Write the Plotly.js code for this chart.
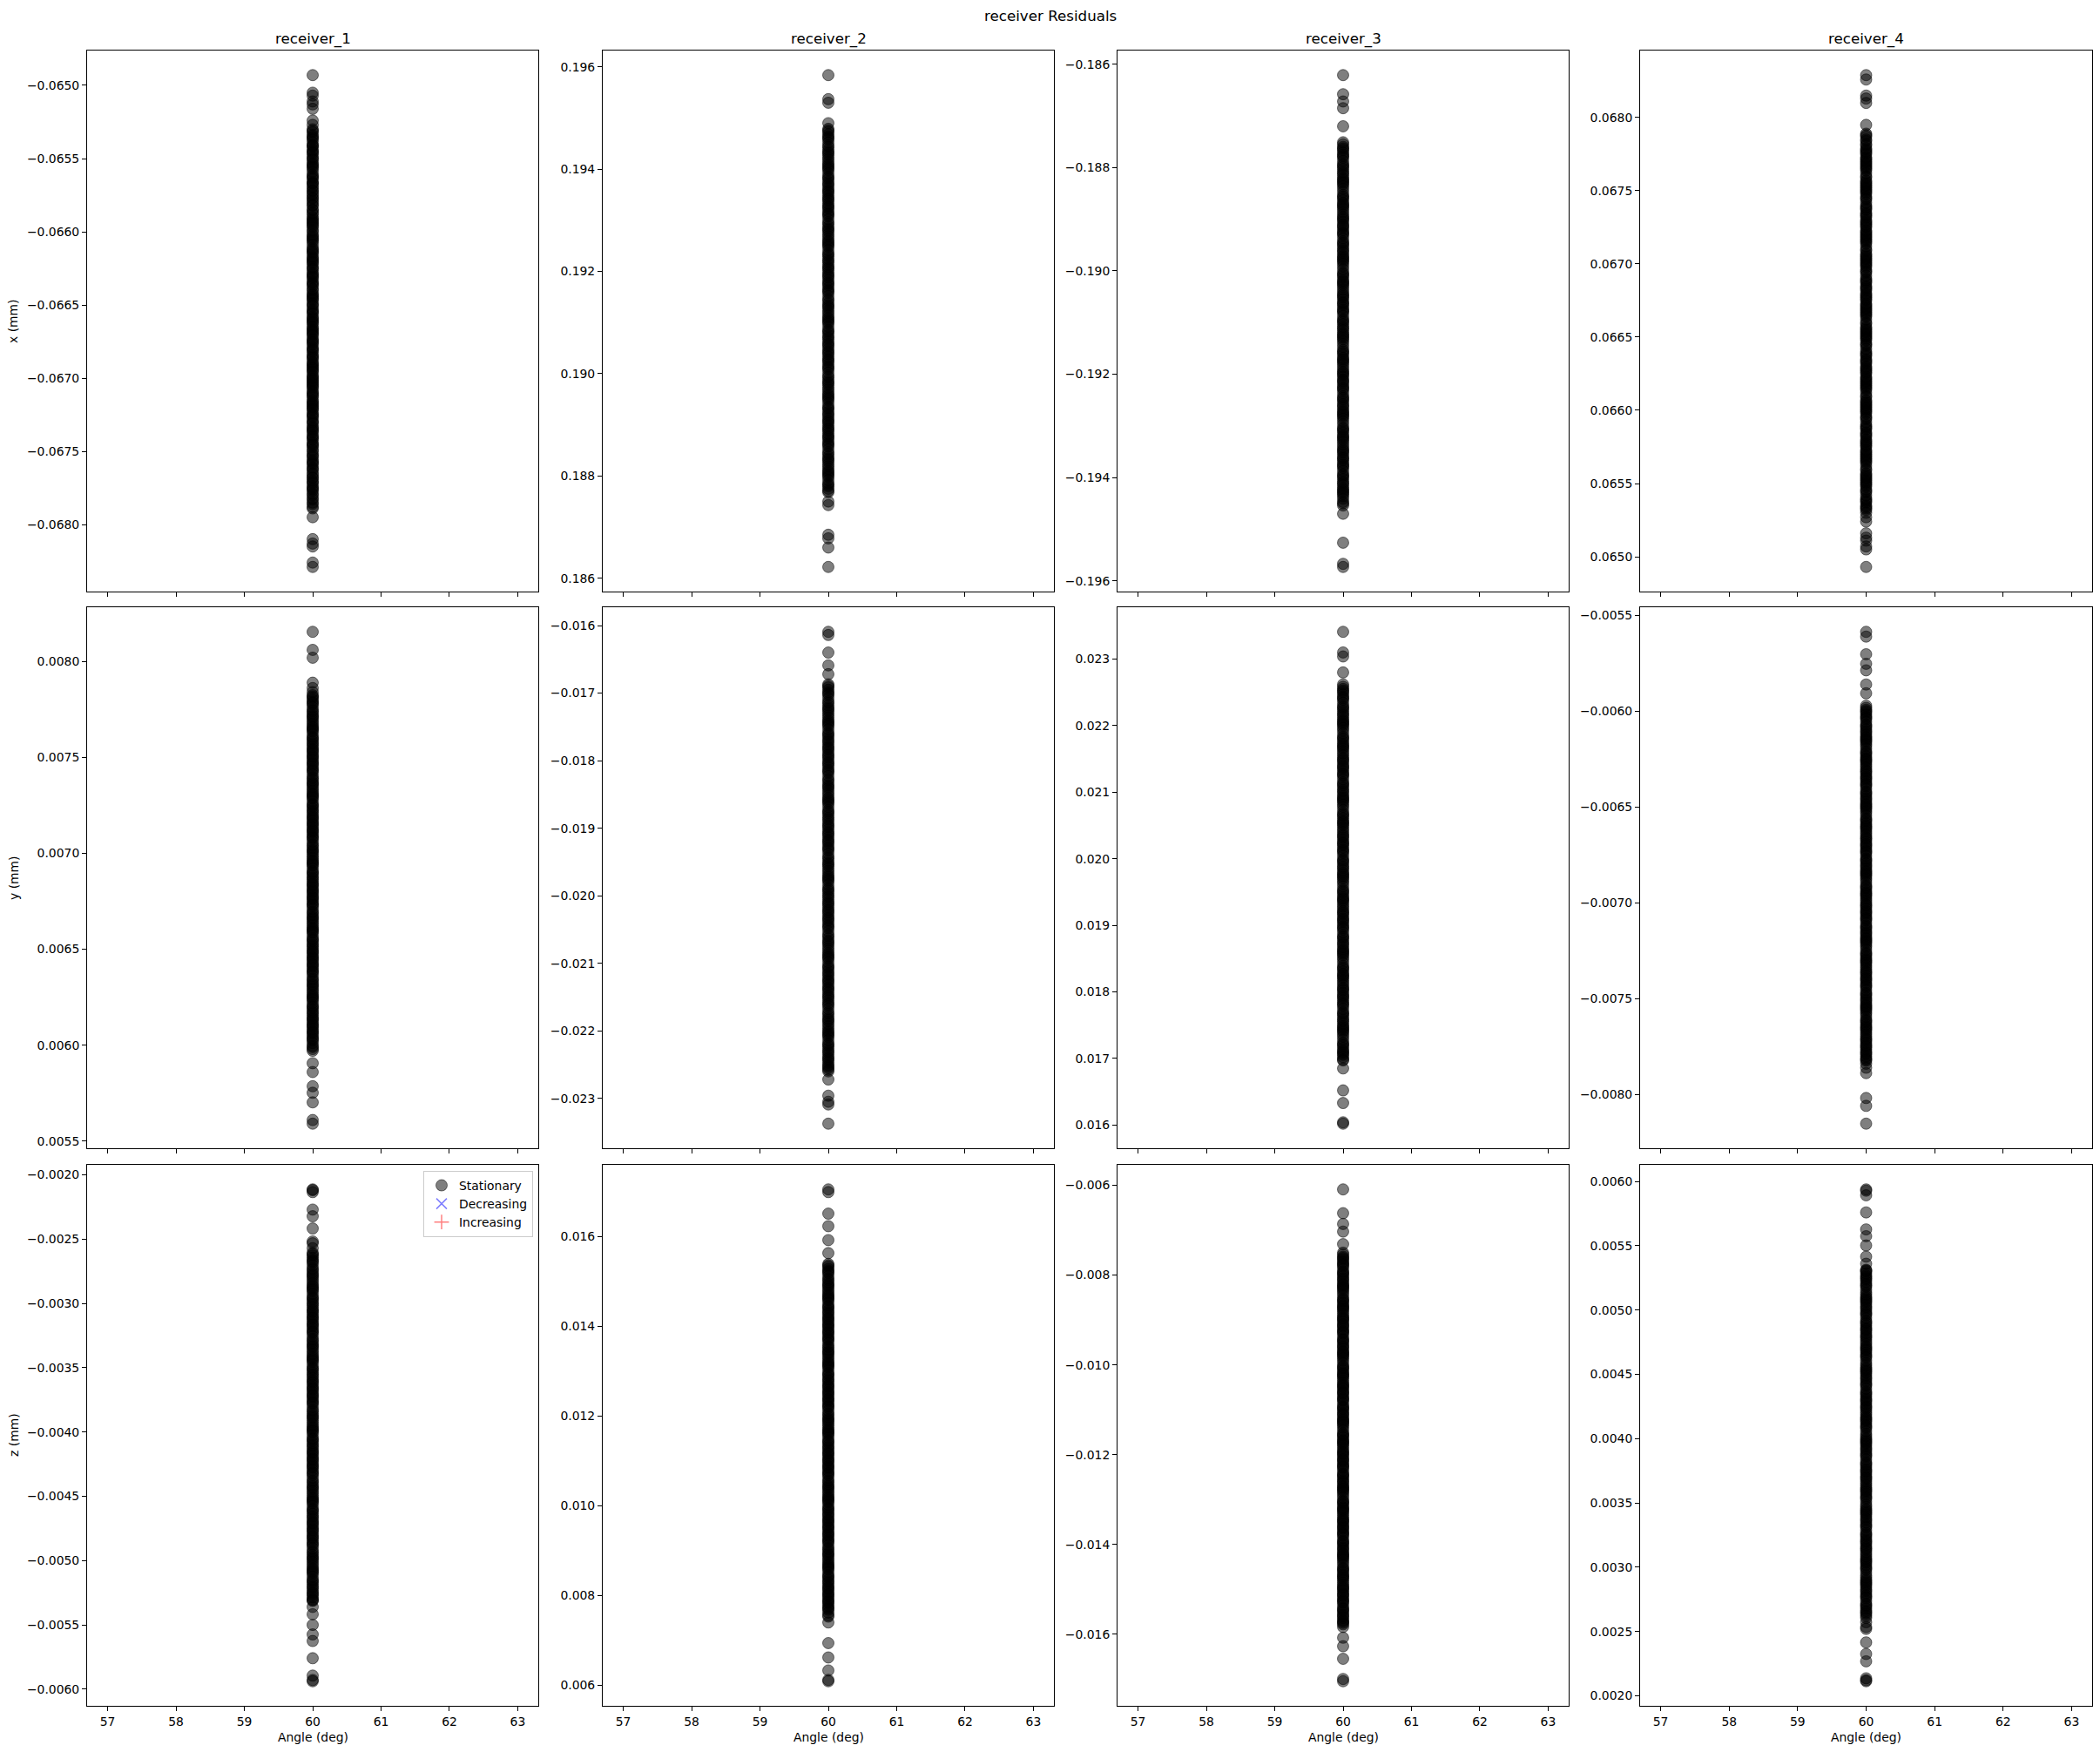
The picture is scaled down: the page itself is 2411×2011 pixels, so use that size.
<!DOCTYPE html>
<html><head><meta charset="utf-8">
<script src="https://cdn.plot.ly/plotly-3.0.1.min.js"></script>
<style>html,body{margin:0;padding:0;background:#fff}</style>
</head><body><div id="chart" style="width:2411px;height:2011px"></div>
<script>
// ---------------- data ----------------
const figTitle = 'receiver Residuals';
const receivers = ['receiver_1','receiver_2','receiver_3','receiver_4'];
const yTitles = ['x (mm)','y (mm)','z (mm)'];
const xTitle = 'Angle (deg)';
const xTickVals = [57,58,59,60,61,62,63];
const stationaryAngle = 60;           // every residual sample is at 60 deg (stationary)
const legendNames = ['Stationary','Decreasing','Increasing'];
// no decreasing / increasing samples in this data set (legend entries only)
const decreasingAngles = [null], decreasingValues = [null];
const increasingAngles = [null], increasingValues = [null];

const r1_x = [-0.06493,-0.06505,-0.06507,-0.06511,-0.06513,-0.06516,-0.06524,-0.06527,
-0.06530,-0.06532,-0.06535,-0.06537,-0.06541,-0.06542,-0.06545,-0.06547,-0.06550,-0.06553,-0.06555,-0.06557,-0.06561,-0.06563,-0.06566,-0.06567,-0.06570,-0.06572,-0.06575,-0.06577,
-0.06580,-0.06582,-0.06585,-0.06588,-0.06591,-0.06592,-0.06595,-0.06597,-0.06600,-0.06603,-0.06605,-0.06607,-0.06611,-0.06613,-0.06615,-0.06617,-0.06620,-0.06622,-0.06625,-0.06628,
-0.06630,-0.06632,-0.06635,-0.06637,-0.06640,-0.06642,-0.06645,-0.06647,-0.06650,-0.06653,-0.06655,-0.06658,-0.06661,-0.06663,-0.06666,-0.06667,-0.06670,-0.06673,-0.06675,-0.06677,
-0.06680,-0.06682,-0.06685,-0.06687,-0.06691,-0.06692,-0.06695,-0.06698,-0.06700,-0.06703,-0.06705,-0.06707,-0.06711,-0.06713,-0.06716,-0.06717,-0.06720,-0.06722,-0.06725,-0.06727,
-0.06730,-0.06733,-0.06735,-0.06737,-0.06741,-0.06742,-0.06745,-0.06747,-0.06750,-0.06753,-0.06756,-0.06757,-0.06761,-0.06763,-0.06766,-0.06768,-0.06770,-0.06772,-0.06775,-0.06777,
-0.06780,-0.06783,-0.06786,-0.06789,
-0.06795,-0.06810,-0.06813,-0.06815,-0.06826,-0.06829];
const r1_x_band = [-0.06531,-0.06534,-0.06536,-0.06539,-0.06541,-0.06544,-0.06546,-0.06549,-0.06551,-0.06554,-0.06556,-0.06559,-0.06562,-0.06564,-0.06567,-0.06569,-0.06572,-0.06574,-0.06577,-0.06579,
-0.06582,-0.06585,-0.06587,-0.06590,-0.06593,-0.06594,-0.06596,-0.06599,-0.06602,-0.06604,-0.06606,-0.06609,-0.06612,-0.06614,-0.06618,-0.06619,-0.06621,-0.06624,-0.06626,-0.06629,
-0.06631,-0.06634,-0.06636,-0.06639,-0.06643,-0.06644,-0.06646,-0.06649,-0.06651,-0.06654,-0.06656,-0.06659,-0.06660,-0.06662,-0.06665,-0.06668,-0.06669,-0.06671,-0.06674,-0.06676,
-0.06679,-0.06681,-0.06684,-0.06686,-0.06689,-0.06690,-0.06693,-0.06694,-0.06696,-0.06699,-0.06701,-0.06702,-0.06704,-0.06706,-0.06709,-0.06710,-0.06712,-0.06715,-0.06718,-0.06719,
-0.06721,-0.06724,-0.06726,-0.06729,-0.06731,-0.06734,-0.06736,-0.06739,-0.06740,-0.06744,-0.06746,-0.06749,-0.06752,-0.06754,-0.06758,-0.06759,-0.06762,-0.06765,-0.06768,-0.06771,
-0.06774,-0.06776,-0.06779,-0.06782,-0.06785,-0.06788];

const r2_x = [0.19584,0.19537,0.19530,0.19490,
0.19479,0.19473,0.19464,0.19458,0.19446,0.19443,0.19434,0.19428,0.19419,0.19410,0.19404,0.19398,0.19386,0.19380,0.19371,0.19368,0.19359,0.19353,0.19344,0.19338,
0.19329,0.19323,0.19314,0.19308,0.19296,0.19293,0.19284,0.19278,0.19269,0.19260,0.19254,0.19248,0.19236,0.19230,0.19221,0.19218,0.19209,0.19203,0.19194,0.19188,
0.19179,0.19173,0.19164,0.19158,0.19146,0.19143,0.19134,0.19128,0.19119,0.19110,0.19104,0.19098,0.19086,0.19080,0.19071,0.19068,0.19059,0.19053,0.19044,0.19038,
0.19029,0.19023,0.19014,0.19008,0.18996,0.18993,0.18984,0.18978,0.18969,0.18960,0.18954,0.18948,0.18936,0.18930,0.18921,0.18918,0.18909,0.18903,0.18894,0.18888,
0.18879,0.18873,0.18864,0.18858,0.18846,0.18843,0.18834,0.18828,0.18819,0.18810,0.18804,0.18798,0.18786,0.18780,0.18771,0.18768,
0.18750,0.18743,0.18685,0.18678,0.18660,0.18622];
const r2_x_band = [0.19476,0.19468,0.19461,0.19452,0.19438,0.19431,0.19423,0.19414,0.19407,0.19401,0.19392,0.19383,0.19375,0.19363,0.19356,0.19348,0.19341,0.19333,
0.19326,0.19318,0.19311,0.19302,0.19288,0.19281,0.19273,0.19264,0.19257,0.19251,0.19242,0.19233,0.19225,0.19213,0.19206,0.19198,0.19191,0.19183,
0.19176,0.19168,0.19161,0.19152,0.19138,0.19131,0.19123,0.19114,0.19107,0.19101,0.19092,0.19083,0.19075,0.19063,0.19056,0.19048,0.19041,0.19033,
0.19026,0.19018,0.19011,0.19002,0.18988,0.18981,0.18973,0.18964,0.18957,0.18951,0.18942,0.18933,0.18925,0.18913,0.18906,0.18898,0.18891,0.18883,
0.18876,0.18868,0.18861,0.18852,0.18838,0.18831,0.18823,0.18814,0.18807,0.18801,0.18792,0.18783,0.18775];

const r3_x = [-0.18621,-0.18658,-0.18672,-0.18685,-0.18720,
-0.18751,-0.18760,-0.18766,-0.18775,-0.18781,-0.18793,-0.18799,-0.18808,-0.18811,-0.18820,-0.18826,-0.18832,-0.18841,-0.18853,-0.18859,-0.18868,-0.18874,-0.18877,-0.18886,-0.18895,
-0.18901,-0.18910,-0.18916,-0.18925,-0.18931,-0.18943,-0.18949,-0.18958,-0.18961,-0.18970,-0.18976,-0.18982,-0.18991,-0.19003,-0.19009,-0.19018,-0.19024,-0.19027,-0.19036,-0.19045,
-0.19051,-0.19060,-0.19066,-0.19075,-0.19081,-0.19093,-0.19099,-0.19108,-0.19111,-0.19120,-0.19126,-0.19132,-0.19141,-0.19153,-0.19159,-0.19168,-0.19174,-0.19177,-0.19186,-0.19195,
-0.19201,-0.19210,-0.19216,-0.19225,-0.19231,-0.19243,-0.19249,-0.19258,-0.19261,-0.19270,-0.19276,-0.19282,-0.19291,-0.19303,-0.19309,-0.19318,-0.19324,-0.19327,-0.19336,-0.19345,
-0.19351,-0.19360,-0.19366,-0.19375,-0.19381,-0.19393,-0.19399,-0.19408,-0.19411,-0.19420,-0.19426,-0.19432,-0.19441,-0.19450,-0.19454,
-0.19470,-0.19526,-0.19567,-0.19573];
const r3_x_band = [-0.18755,-0.18763,-0.18771,-0.18778,-0.18787,-0.18796,-0.18803,-0.18815,-0.18823,-0.18829,-0.18836,-0.18847,-0.18856,-0.18863,-0.18871,-0.18881,-0.18891,-0.18898,
-0.18905,-0.18913,-0.18921,-0.18928,-0.18937,-0.18946,-0.18953,-0.18965,-0.18973,-0.18979,-0.18986,-0.18997,-0.19006,-0.19013,-0.19021,-0.19031,-0.19041,-0.19048,
-0.19055,-0.19063,-0.19071,-0.19078,-0.19087,-0.19096,-0.19103,-0.19115,-0.19123,-0.19129,-0.19136,-0.19147,-0.19156,-0.19163,-0.19171,-0.19181,-0.19191,-0.19198,
-0.19205,-0.19213,-0.19221,-0.19228,-0.19237,-0.19246,-0.19253,-0.19265,-0.19273,-0.19279,-0.19286,-0.19297,-0.19306,-0.19313,-0.19321,-0.19331,-0.19341,-0.19348,
-0.19355,-0.19363,-0.19371,-0.19378,-0.19387,-0.19396,-0.19403,-0.19415,-0.19423,-0.19429,-0.19436,-0.19447];

const r4_x = [0.06829,0.06826,0.06815,0.06813,0.06810,0.06795,
0.06789,0.06787,0.06784,0.06781,
0.06778,0.06775,0.06772,0.06771,0.06769,0.06766,0.06764,0.06760,0.06757,0.06755,0.06753,0.06750,0.06749,0.06746,0.06744,0.06740,0.06738,0.06735,0.06733,0.06730,
0.06728,0.06725,0.06722,0.06721,0.06719,0.06716,0.06714,0.06710,0.06707,0.06705,0.06703,0.06700,0.06699,0.06696,0.06694,0.06690,0.06688,0.06685,0.06683,0.06680,
0.06678,0.06675,0.06672,0.06671,0.06669,0.06666,0.06664,0.06660,0.06657,0.06655,0.06653,0.06650,0.06649,0.06646,0.06644,0.06640,0.06638,0.06635,0.06633,0.06630,
0.06628,0.06625,0.06622,0.06621,0.06619,0.06616,0.06614,0.06610,0.06607,0.06605,0.06603,0.06600,0.06599,0.06596,0.06594,0.06590,0.06588,0.06585,0.06583,0.06580,
0.06578,0.06575,0.06572,0.06571,0.06569,0.06566,0.06564,0.06560,0.06557,0.06555,0.06553,0.06550,0.06549,0.06546,0.06544,0.06540,0.06538,0.06535,0.06533,0.06530,
0.06527,0.06524,0.06516,0.06513,0.06511,0.06507,0.06505,0.06493];
const r4_x_band = [0.06532,0.06534,0.06537,0.06539,0.06542,0.06545,0.06548,0.06551,0.06552,0.06554,0.06556,0.06559,0.06562,0.06565,0.06567,0.06568,0.06570,0.06573,0.06576,0.06577,
0.06579,0.06582,0.06584,0.06587,0.06589,0.06592,0.06595,0.06598,0.06601,0.06602,0.06604,0.06606,0.06609,0.06612,0.06615,0.06617,0.06618,0.06620,0.06623,0.06626,
0.06627,0.06629,0.06632,0.06634,0.06637,0.06639,0.06642,0.06645,0.06648,0.06651,0.06652,0.06654,0.06656,0.06659,0.06662,0.06665,0.06667,0.06668,0.06670,0.06673,
0.06676,0.06677,0.06679,0.06682,0.06684,0.06687,0.06689,0.06692,0.06695,0.06698,0.06701,0.06702,0.06704,0.06706,0.06709,0.06712,0.06715,0.06717,0.06718,0.06720,
0.06723,0.06726,0.06727,0.06729,0.06732,0.06734,0.06737,0.06739,0.06742,0.06745,0.06748,0.06751,0.06752,0.06754,0.06756,0.06759,0.06762,0.06765,0.06767,0.06768,
0.06770,0.06773,0.06776,0.06777,0.06779,0.06782,0.06785,0.06788];

const r1_y = [0.008154,0.008060,0.008019,0.007889,0.007861,0.007840,
0.007824,0.007810,0.007789,0.007775,0.007747,0.007740,0.007719,0.007705,0.007684,0.007663,0.007649,0.007635,0.007607,0.007593,0.007572,0.007565,0.007544,0.007530,0.007509,0.007495,
0.007474,0.007460,0.007439,0.007425,0.007397,0.007390,0.007369,0.007355,0.007334,0.007313,0.007299,0.007285,0.007257,0.007243,0.007222,0.007215,0.007194,0.007180,0.007159,0.007145,
0.007124,0.007110,0.007089,0.007075,0.007047,0.007040,0.007019,0.007005,0.006984,0.006963,0.006949,0.006935,0.006907,0.006893,0.006872,0.006865,0.006844,0.006830,0.006809,0.006795,
0.006774,0.006760,0.006739,0.006725,0.006697,0.006690,0.006669,0.006655,0.006634,0.006613,0.006599,0.006585,0.006557,0.006543,0.006522,0.006515,0.006494,0.006480,0.006459,0.006445,
0.006424,0.006410,0.006389,0.006375,0.006347,0.006340,0.006319,0.006305,0.006284,0.006263,0.006249,0.006235,0.006207,0.006193,0.006172,0.006165,0.006144,0.006130,0.006109,0.006095,
0.006074,0.006060,0.006039,0.006025,0.005997,0.005990,0.005971,
0.005906,0.005860,0.005786,0.005752,0.005702,0.005610,0.005591];
const r1_y_band = [0.007817,0.007799,0.007782,0.007761,0.007730,0.007712,0.007694,0.007674,0.007656,0.007642,0.007621,0.007600,0.007582,0.007554,0.007537,0.007519,0.007502,0.007484,
0.007467,0.007449,0.007432,0.007411,0.007380,0.007362,0.007344,0.007324,0.007306,0.007292,0.007271,0.007250,0.007232,0.007204,0.007187,0.007169,0.007152,0.007134,
0.007117,0.007099,0.007082,0.007061,0.007030,0.007012,0.006994,0.006974,0.006956,0.006942,0.006921,0.006900,0.006882,0.006854,0.006837,0.006819,0.006802,0.006784,
0.006767,0.006749,0.006732,0.006711,0.006680,0.006662,0.006644,0.006624,0.006606,0.006592,0.006571,0.006550,0.006532,0.006504,0.006487,0.006469,0.006452,0.006434,
0.006417,0.006399,0.006382,0.006361,0.006330,0.006312,0.006294,0.006274,0.006256,0.006242,0.006221,0.006200,0.006182,0.006154,0.006137,0.006119,0.006102,0.006084,
0.006067,0.006049,0.006032,0.006011,0.005980];

const r2_y = [-0.016093,-0.016140,-0.016400,-0.016590,-0.016720,
-0.016870,-0.016916,-0.016985,-0.017031,-0.017123,-0.017146,-0.017215,-0.017261,-0.017330,-0.017399,-0.017445,-0.017491,-0.017583,-0.017629,-0.017698,-0.017721,-0.017790,-0.017836,-0.017905,-0.017951,
-0.018020,-0.018066,-0.018135,-0.018181,-0.018273,-0.018296,-0.018365,-0.018411,-0.018480,-0.018549,-0.018595,-0.018641,-0.018733,-0.018779,-0.018848,-0.018871,-0.018940,-0.018986,-0.019055,-0.019101,
-0.019170,-0.019216,-0.019285,-0.019331,-0.019423,-0.019446,-0.019515,-0.019561,-0.019630,-0.019699,-0.019745,-0.019791,-0.019883,-0.019929,-0.019998,-0.020021,-0.020090,-0.020136,-0.020205,-0.020251,
-0.020320,-0.020366,-0.020435,-0.020481,-0.020573,-0.020596,-0.020665,-0.020711,-0.020780,-0.020849,-0.020895,-0.020941,-0.021033,-0.021079,-0.021148,-0.021171,-0.021240,-0.021286,-0.021355,-0.021401,
-0.021470,-0.021516,-0.021585,-0.021631,-0.021723,-0.021746,-0.021815,-0.021861,-0.021930,-0.021999,-0.022045,-0.022091,-0.022183,-0.022229,-0.022298,-0.022321,-0.022390,-0.022436,-0.022505,-0.022551,-0.022600,
-0.022720,-0.022960,-0.023050,-0.023090,-0.023374];
const r2_y_band = [-0.016893,-0.016951,-0.017008,-0.017077,-0.017181,-0.017238,-0.017296,-0.017365,-0.017422,-0.017468,-0.017537,-0.017606,-0.017664,-0.017756,-0.017813,-0.017871,-0.017928,-0.017986,
-0.018043,-0.018101,-0.018158,-0.018227,-0.018331,-0.018388,-0.018446,-0.018515,-0.018572,-0.018618,-0.018687,-0.018756,-0.018814,-0.018906,-0.018963,-0.019021,-0.019078,-0.019136,
-0.019193,-0.019251,-0.019308,-0.019377,-0.019481,-0.019538,-0.019596,-0.019665,-0.019722,-0.019768,-0.019837,-0.019906,-0.019964,-0.020056,-0.020113,-0.020171,-0.020228,-0.020286,
-0.020343,-0.020401,-0.020458,-0.020527,-0.020631,-0.020688,-0.020746,-0.020815,-0.020872,-0.020918,-0.020987,-0.021056,-0.021114,-0.021206,-0.021263,-0.021321,-0.021378,-0.021436,
-0.021493,-0.021551,-0.021608,-0.021677,-0.021781,-0.021838,-0.021896,-0.021965,-0.022022,-0.022068,-0.022137,-0.022206,-0.022264,-0.022356,-0.022413,-0.022471,-0.022528,-0.022577];

const r3_y = [0.023410,0.023100,0.023040,0.022800,
0.022620,0.022551,0.022505,0.022436,0.022390,0.022298,0.022252,0.022183,0.022160,0.022091,0.022045,0.021999,0.021930,0.021838,0.021792,0.021723,0.021677,0.021654,0.021585,0.021516,
0.021470,0.021401,0.021355,0.021286,0.021240,0.021148,0.021102,0.021033,0.021010,0.020941,0.020895,0.020849,0.020780,0.020688,0.020642,0.020573,0.020527,0.020504,0.020435,0.020366,
0.020320,0.020251,0.020205,0.020136,0.020090,0.019998,0.019952,0.019883,0.019860,0.019791,0.019745,0.019699,0.019630,0.019538,0.019492,0.019423,0.019377,0.019354,0.019285,0.019216,
0.019170,0.019101,0.019055,0.018986,0.018940,0.018848,0.018802,0.018733,0.018710,0.018641,0.018595,0.018549,0.018480,0.018388,0.018342,0.018273,0.018227,0.018204,0.018135,0.018066,
0.018020,0.017951,0.017905,0.017836,0.017790,0.017698,0.017652,0.017583,0.017560,0.017491,0.017445,0.017399,0.017330,0.017238,0.017192,0.017123,0.017077,0.017054,0.016985,0.016970,
0.016850,0.016520,0.016330,0.016040,0.016020];
const r3_y_band = [0.022585,0.022528,0.022470,0.022413,0.022344,0.022275,0.022217,0.022125,0.022068,0.022022,0.021964,0.021884,0.021815,0.021757,0.021700,0.021619,0.021550,0.021493,
0.021435,0.021378,0.021320,0.021263,0.021194,0.021125,0.021067,0.020975,0.020918,0.020872,0.020814,0.020734,0.020665,0.020607,0.020550,0.020469,0.020400,0.020343,
0.020285,0.020228,0.020170,0.020113,0.020044,0.019975,0.019917,0.019825,0.019768,0.019722,0.019664,0.019584,0.019515,0.019457,0.019400,0.019319,0.019250,0.019193,
0.019135,0.019078,0.019020,0.018963,0.018894,0.018825,0.018767,0.018675,0.018618,0.018572,0.018514,0.018434,0.018365,0.018307,0.018250,0.018169,0.018100,0.018043,
0.017985,0.017928,0.017870,0.017813,0.017744,0.017675,0.017617,0.017525,0.017468,0.017422,0.017364,0.017284,0.017215,0.017157,0.017100,0.017019];

const r4_y = [-0.005585,-0.005610,-0.005702,-0.005752,-0.005786,-0.005860,-0.005906,
-0.005971,-0.005992,-0.006006,-0.006027,-0.006041,-0.006069,-0.006083,-0.006104,-0.006111,-0.006132,-0.006146,-0.006160,-0.006181,-0.006209,-0.006223,-0.006244,-0.006258,-0.006265,-0.006286,-0.006307,
-0.006321,-0.006342,-0.006356,-0.006377,-0.006391,-0.006419,-0.006433,-0.006454,-0.006461,-0.006482,-0.006496,-0.006510,-0.006531,-0.006559,-0.006573,-0.006594,-0.006608,-0.006615,-0.006636,-0.006657,
-0.006671,-0.006692,-0.006706,-0.006727,-0.006741,-0.006769,-0.006783,-0.006804,-0.006811,-0.006832,-0.006846,-0.006860,-0.006881,-0.006909,-0.006923,-0.006944,-0.006958,-0.006965,-0.006986,-0.007007,
-0.007021,-0.007042,-0.007056,-0.007077,-0.007091,-0.007119,-0.007133,-0.007154,-0.007161,-0.007182,-0.007196,-0.007210,-0.007231,-0.007259,-0.007273,-0.007294,-0.007308,-0.007315,-0.007336,-0.007357,
-0.007371,-0.007392,-0.007406,-0.007427,-0.007441,-0.007469,-0.007483,-0.007504,-0.007511,-0.007532,-0.007546,-0.007560,-0.007581,-0.007609,-0.007623,-0.007644,-0.007658,-0.007665,-0.007686,-0.007707,
-0.007721,-0.007742,-0.007756,-0.007777,-0.007791,-0.007812,-0.007824,
-0.007840,-0.007861,-0.007889,-0.008019,-0.008060,-0.008153];
const r4_y_band = [-0.005982,-0.005999,-0.006017,-0.006034,-0.006055,-0.006076,-0.006094,-0.006122,-0.006139,-0.006153,-0.006171,-0.006195,-0.006216,-0.006234,-0.006251,-0.006276,-0.006297,-0.006314,
-0.006332,-0.006349,-0.006367,-0.006384,-0.006405,-0.006426,-0.006444,-0.006472,-0.006489,-0.006503,-0.006521,-0.006545,-0.006566,-0.006584,-0.006601,-0.006626,-0.006647,-0.006664,
-0.006682,-0.006699,-0.006717,-0.006734,-0.006755,-0.006776,-0.006794,-0.006822,-0.006839,-0.006853,-0.006871,-0.006895,-0.006916,-0.006934,-0.006951,-0.006976,-0.006997,-0.007014,
-0.007032,-0.007049,-0.007067,-0.007084,-0.007105,-0.007126,-0.007144,-0.007172,-0.007189,-0.007203,-0.007221,-0.007245,-0.007266,-0.007284,-0.007301,-0.007326,-0.007347,-0.007364,
-0.007382,-0.007399,-0.007417,-0.007434,-0.007455,-0.007476,-0.007494,-0.007522,-0.007539,-0.007553,-0.007571,-0.007595,-0.007616,-0.007634,-0.007651,-0.007676,-0.007697,-0.007714,
-0.007732,-0.007749,-0.007766,-0.007784,-0.007802,-0.007818];

const r1_z = [-0.002113,-0.002119,-0.002134,-0.002270,-0.002322,-0.002417,-0.002518,-0.002532,-0.002570,
-0.002606,-0.002628,-0.002661,-0.002683,-0.002727,-0.002738,-0.002771,-0.002793,-0.002826,-0.002859,-0.002881,-0.002903,-0.002947,-0.002969,-0.003002,-0.003013,-0.003046,-0.003068,-0.003101,-0.003123,
-0.003156,-0.003178,-0.003211,-0.003233,-0.003277,-0.003288,-0.003321,-0.003343,-0.003376,-0.003409,-0.003431,-0.003453,-0.003497,-0.003519,-0.003552,-0.003563,-0.003596,-0.003618,-0.003651,-0.003673,
-0.003706,-0.003728,-0.003761,-0.003783,-0.003827,-0.003838,-0.003871,-0.003893,-0.003926,-0.003959,-0.003981,-0.004003,-0.004047,-0.004069,-0.004102,-0.004113,-0.004146,-0.004168,-0.004201,-0.004223,
-0.004256,-0.004278,-0.004311,-0.004333,-0.004377,-0.004388,-0.004421,-0.004443,-0.004476,-0.004509,-0.004531,-0.004553,-0.004597,-0.004619,-0.004652,-0.004663,-0.004696,-0.004718,-0.004751,-0.004773,
-0.004806,-0.004828,-0.004861,-0.004883,-0.004927,-0.004938,-0.004971,-0.004993,-0.005026,-0.005059,-0.005081,-0.005103,-0.005147,-0.005169,-0.005202,-0.005213,-0.005246,-0.005268,-0.005301,-0.005313,
-0.005360,-0.005417,-0.005500,-0.005574,-0.005625,-0.005759,-0.005894,-0.005928,-0.005938];
const r1_z_band = [-0.002617,-0.002645,-0.002672,-0.002705,-0.002755,-0.002782,-0.002810,-0.002843,-0.002870,-0.002892,-0.002925,-0.002958,-0.002986,-0.003030,-0.003057,-0.003085,-0.003112,-0.003140,
-0.003167,-0.003195,-0.003222,-0.003255,-0.003305,-0.003332,-0.003360,-0.003393,-0.003420,-0.003442,-0.003475,-0.003508,-0.003536,-0.003580,-0.003607,-0.003635,-0.003662,-0.003690,
-0.003717,-0.003745,-0.003772,-0.003805,-0.003855,-0.003882,-0.003910,-0.003943,-0.003970,-0.003992,-0.004025,-0.004058,-0.004086,-0.004130,-0.004157,-0.004185,-0.004212,-0.004240,
-0.004267,-0.004295,-0.004322,-0.004355,-0.004405,-0.004432,-0.004460,-0.004493,-0.004520,-0.004542,-0.004575,-0.004608,-0.004636,-0.004680,-0.004707,-0.004735,-0.004762,-0.004790,
-0.004817,-0.004845,-0.004872,-0.004905,-0.004955,-0.004982,-0.005010,-0.005043,-0.005070,-0.005092,-0.005125,-0.005158,-0.005186,-0.005230,-0.005257,-0.005285,-0.005307];

const r2_z = [0.01705,0.01699,0.01651,0.01623,0.01592,0.01563,
0.01539,0.01533,0.01524,0.01518,0.01506,0.01503,0.01494,0.01488,0.01479,0.01470,0.01464,0.01458,0.01446,0.01440,0.01431,0.01428,0.01419,0.01413,0.01404,0.01398,
0.01389,0.01383,0.01374,0.01368,0.01356,0.01353,0.01344,0.01338,0.01329,0.01320,0.01314,0.01308,0.01296,0.01290,0.01281,0.01278,0.01269,0.01263,0.01254,0.01248,
0.01239,0.01233,0.01224,0.01218,0.01206,0.01203,0.01194,0.01188,0.01179,0.01170,0.01164,0.01158,0.01146,0.01140,0.01131,0.01128,0.01119,0.01113,0.01104,0.01098,
0.01089,0.01083,0.01074,0.01068,0.01056,0.01053,0.01044,0.01038,0.01029,0.01020,0.01014,0.01008,0.00996,0.00990,0.00981,0.00978,0.00969,0.00963,0.00954,0.00948,
0.00939,0.00933,0.00924,0.00918,0.00906,0.00903,0.00894,0.00888,0.00879,0.00870,0.00864,0.00858,0.00846,0.00840,0.00831,0.00828,0.00819,0.00813,0.00804,0.00798,
0.00789,0.00783,0.00774,0.00768,0.00756,0.00753,
0.00740,0.00694,0.00662,0.00633,0.00612,0.00609];
const r2_z_band = [0.01536,0.01528,0.01521,0.01512,0.01498,0.01491,0.01483,0.01474,0.01467,0.01461,0.01452,0.01443,0.01435,0.01423,0.01416,0.01408,0.01401,0.01393,
0.01386,0.01378,0.01371,0.01362,0.01348,0.01341,0.01333,0.01324,0.01317,0.01311,0.01302,0.01293,0.01285,0.01273,0.01266,0.01258,0.01251,0.01243,
0.01236,0.01228,0.01221,0.01212,0.01198,0.01191,0.01183,0.01174,0.01167,0.01161,0.01152,0.01143,0.01135,0.01123,0.01116,0.01108,0.01101,0.01093,
0.01086,0.01078,0.01071,0.01062,0.01048,0.01041,0.01033,0.01024,0.01017,0.01011,0.01002,0.00993,0.00985,0.00973,0.00966,0.00958,0.00951,0.00943,
0.00936,0.00928,0.00921,0.00912,0.00898,0.00891,0.00883,0.00874,0.00867,0.00861,0.00852,0.00843,0.00835,0.00823,0.00816,0.00808,0.00801,0.00793,
0.00786,0.00778,0.00771,0.00762];

const r3_z = [-0.00609,-0.00662,-0.00686,-0.00703,-0.00731,
-0.00750,-0.00759,-0.00765,-0.00774,-0.00780,-0.00792,-0.00798,-0.00807,-0.00810,-0.00819,-0.00825,-0.00831,-0.00840,-0.00852,-0.00858,-0.00867,-0.00873,-0.00876,-0.00885,-0.00894,
-0.00900,-0.00909,-0.00915,-0.00924,-0.00930,-0.00942,-0.00948,-0.00957,-0.00960,-0.00969,-0.00975,-0.00981,-0.00990,-0.01002,-0.01008,-0.01017,-0.01023,-0.01026,-0.01035,-0.01044,
-0.01050,-0.01059,-0.01065,-0.01074,-0.01080,-0.01092,-0.01098,-0.01107,-0.01110,-0.01119,-0.01125,-0.01131,-0.01140,-0.01152,-0.01158,-0.01167,-0.01173,-0.01176,-0.01185,-0.01194,
-0.01200,-0.01209,-0.01215,-0.01224,-0.01230,-0.01242,-0.01248,-0.01257,-0.01260,-0.01269,-0.01275,-0.01281,-0.01290,-0.01302,-0.01308,-0.01317,-0.01323,-0.01326,-0.01335,-0.01344,
-0.01350,-0.01359,-0.01365,-0.01374,-0.01380,-0.01392,-0.01398,-0.01407,-0.01410,-0.01419,-0.01425,-0.01431,-0.01440,-0.01452,-0.01458,-0.01467,-0.01473,-0.01476,-0.01485,-0.01494,
-0.01500,-0.01509,-0.01515,-0.01524,-0.01530,-0.01542,-0.01548,-0.01557,-0.01560,-0.01569,-0.01575,-0.01584,
-0.01608,-0.01627,-0.01655,-0.01700,-0.01705];
const r3_z_band = [-0.00754,-0.00762,-0.00770,-0.00777,-0.00786,-0.00795,-0.00802,-0.00814,-0.00822,-0.00828,-0.00835,-0.00846,-0.00855,-0.00862,-0.00870,-0.00880,-0.00890,-0.00897,
-0.00904,-0.00912,-0.00920,-0.00927,-0.00936,-0.00945,-0.00952,-0.00964,-0.00972,-0.00978,-0.00985,-0.00996,-0.01005,-0.01012,-0.01020,-0.01030,-0.01040,-0.01047,
-0.01054,-0.01062,-0.01070,-0.01077,-0.01086,-0.01095,-0.01102,-0.01114,-0.01122,-0.01128,-0.01135,-0.01146,-0.01155,-0.01162,-0.01170,-0.01180,-0.01190,-0.01197,
-0.01204,-0.01212,-0.01220,-0.01227,-0.01236,-0.01245,-0.01252,-0.01264,-0.01272,-0.01278,-0.01285,-0.01296,-0.01305,-0.01312,-0.01320,-0.01330,-0.01340,-0.01347,
-0.01354,-0.01362,-0.01370,-0.01377,-0.01386,-0.01395,-0.01402,-0.01414,-0.01422,-0.01428,-0.01435,-0.01446,-0.01455,-0.01462,-0.01470,-0.01480,-0.01490,-0.01497,
-0.01504,-0.01512,-0.01520,-0.01527,-0.01536,-0.01545,-0.01552,-0.01564,-0.01572,-0.01578];

const r4_z = [0.005938,0.005928,0.005892,0.005759,0.005627,0.005574,0.005502,0.005415,0.005360,
0.005313,0.005301,0.005268,0.005257,0.005235,0.005202,0.005180,0.005136,0.005103,0.005081,0.005059,0.005026,0.005015,0.004982,0.004960,0.004916,0.004894,0.004861,0.004839,0.004806,
0.004784,0.004751,0.004718,0.004707,0.004685,0.004652,0.004630,0.004586,0.004553,0.004531,0.004509,0.004476,0.004465,0.004432,0.004410,0.004366,0.004344,0.004311,0.004289,0.004256,
0.004234,0.004201,0.004168,0.004157,0.004135,0.004102,0.004080,0.004036,0.004003,0.003981,0.003959,0.003926,0.003915,0.003882,0.003860,0.003816,0.003794,0.003761,0.003739,0.003706,
0.003684,0.003651,0.003618,0.003607,0.003585,0.003552,0.003530,0.003486,0.003453,0.003431,0.003409,0.003376,0.003365,0.003332,0.003310,0.003266,0.003244,0.003211,0.003189,0.003156,
0.003134,0.003101,0.003068,0.003057,0.003035,0.003002,0.002980,0.002936,0.002903,0.002881,0.002859,0.002826,0.002815,0.002782,0.002760,0.002716,0.002694,0.002661,0.002639,0.002606,
0.002572,0.002535,0.002520,0.002415,0.002325,0.002268,0.002136,0.002121,0.002113];
const r4_z_band = [0.002623,0.002650,0.002678,0.002705,0.002738,0.002771,0.002799,0.002843,0.002870,0.002892,0.002920,0.002958,0.002991,0.003019,0.003046,0.003085,0.003118,0.003145,
0.003173,0.003200,0.003228,0.003255,0.003288,0.003321,0.003349,0.003393,0.003420,0.003442,0.003470,0.003508,0.003541,0.003569,0.003596,0.003635,0.003668,0.003695,
0.003723,0.003750,0.003778,0.003805,0.003838,0.003871,0.003899,0.003943,0.003970,0.003992,0.004020,0.004058,0.004091,0.004119,0.004146,0.004185,0.004218,0.004245,
0.004273,0.004300,0.004328,0.004355,0.004388,0.004421,0.004449,0.004493,0.004520,0.004542,0.004570,0.004608,0.004641,0.004669,0.004696,0.004735,0.004768,0.004795,
0.004823,0.004850,0.004878,0.004905,0.004938,0.004971,0.004999,0.005043,0.005070,0.005092,0.005120,0.005158,0.005191,0.005219,0.005246,0.005285,0.005307];

// ---------------- layout ----------------
const grid = [
  [r1_x.concat(r1_x_band), r2_x.concat(r2_x_band), r3_x.concat(r3_x_band), r4_x.concat(r4_x_band)],
  [r1_y.concat(r1_y_band), r2_y.concat(r2_y_band), r3_y.concat(r3_y_band), r4_y.concat(r4_y_band)],
  [r1_z.concat(r1_z_band), r2_z.concat(r2_z_band), r3_z.concat(r3_z_band), r4_z.concat(r4_z_band)]
];
const W = 2411, H = 2011;
const colL = [100, 692, 1283, 1883], colR = [618, 1210, 1801, 2402];
const rowT = [58, 697, 1337], rowB = [679, 1318, 1958];
const tickStep = [[0.0005,0.002,0.002,0.0005],[0.0005,0.001,0.001,0.0005],[0.0005,0.002,0.002,0.0005]];
const FONT = 'DejaVu Sans, Liberation Sans, sans-serif';
const FS = 13.9;

const traces = [];
const layout = {
  width: W, height: H,
  margin: {l:0, r:0, t:0, b:0},
  paper_bgcolor: '#ffffff', plot_bgcolor: '#ffffff',
  font: {family: FONT, size: FS, color: '#000'},
  showlegend: true,
  legend: {
    x: 612 / W, xanchor: 'right', y: 1 - 1344 / H, yanchor: 'top',
    bgcolor: 'rgba(255,255,255,0.8)', bordercolor: '#cccccc', borderwidth: 1,
    font: {family: FONT, size: FS, color: '#000'}, tracegroupgap: 0
  },
  annotations: []
};

const markerStyle = {size: 13, color: 'rgba(0,0,0,0.5)', line: {color: 'rgba(0,0,0,0.5)', width: 1}};

for (let r = 0; r < 3; r++) {
  for (let c = 0; c < 4; c++) {
    const i = r * 4 + c + 1;
    const vals = grid[r][c];
    const lo = Math.min(...vals), hi = Math.max(...vals), pad = 0.05 * (hi - lo);
    const step = tickStep[r][c];
    const xs = vals.map(() => stationaryAngle);
    traces.push({
      type: 'scatter', mode: 'markers', x: xs, y: vals,
      xaxis: 'x' + i, yaxis: 'y' + i,
      name: legendNames[0], legendgroup: 'stat',
      showlegend: i === 1,
      marker: markerStyle, hoverinfo: 'skip'
    });
    const common = {
      showline: true, mirror: true, linecolor: '#000', linewidth: 1,
      ticks: 'outside', ticklen: 5, tickwidth: 1, tickcolor: '#000',
      showgrid: false, zeroline: false,
      tickfont: {family: FONT, size: FS, color: '#000'}
    };
    layout['xaxis' + i] = Object.assign({}, common, {
      domain: [colL[c] / W, colR[c] / W], anchor: 'y' + i,
      range: [56.7, 63.3], tickmode: 'array', tickvals: xTickVals,
      showticklabels: r === 2
    });
    layout['yaxis' + i] = Object.assign({}, common, {
      domain: [1 - rowB[r] / H, 1 - rowT[r] / H], anchor: 'x' + i,
      range: [lo - pad, hi + pad], tick0: 0, dtick: step,
      tickformat: step < 0.001 ? '.4f' : '.3f'
    });
  }
}

traces.push({type:'scatter', mode:'markers', x: decreasingAngles, y: decreasingValues, xaxis:'x9', yaxis:'y9',
  name: legendNames[1], showlegend: true, hoverinfo: 'skip',
  marker: {symbol:'x-thin', size: 12, color:'rgba(0,0,255,0.5)', line:{color:'rgba(0,0,255,0.5)', width:1.5}}});
traces.push({type:'scatter', mode:'markers', x: increasingAngles, y: increasingValues, xaxis:'x9', yaxis:'y9',
  name: legendNames[2], showlegend: true, hoverinfo: 'skip',
  marker: {symbol:'cross-thin', size: 12, color:'rgba(255,0,0,0.5)', line:{color:'rgba(255,0,0,0.5)', width:1.5}}});

// titles
layout.annotations.push({text: figTitle, xref:'paper', yref:'paper', x: 0.5, y: 1 - 18 / H,
  xanchor:'center', yanchor:'middle', showarrow:false, font:{family:FONT, size:16.7, color:'#000'}});
for (let c = 0; c < 4; c++) {
  layout.annotations.push({text: receivers[c], xref:'paper', yref:'paper',
    x: (colL[c] + colR[c]) / 2 / W, y: 1 - 44.5 / H, xanchor:'center', yanchor:'middle',
    showarrow:false, font:{family:FONT, size:16.7, color:'#000'}});
  layout.annotations.push({text: xTitle, xref:'paper', yref:'paper',
    x: (colL[c] + colR[c]) / 2 / W, y: 1 - 1994 / H, xanchor:'center', yanchor:'middle',
    showarrow:false, font:{family:FONT, size:FS, color:'#000'}});
}
for (let r = 0; r < 3; r++) {
  layout.annotations.push({text: yTitles[r], xref:'paper', yref:'paper',
    x: 15.5 / W, y: 1 - (rowT[r] + rowB[r]) / 2 / H, xanchor:'center', yanchor:'middle',
    textangle: -90, showarrow:false, font:{family:FONT, size:FS, color:'#000'}});
}

Plotly.newPlot('chart', traces, layout, {staticPlot: true, displayModeBar: false});
</script>
</body></html>
